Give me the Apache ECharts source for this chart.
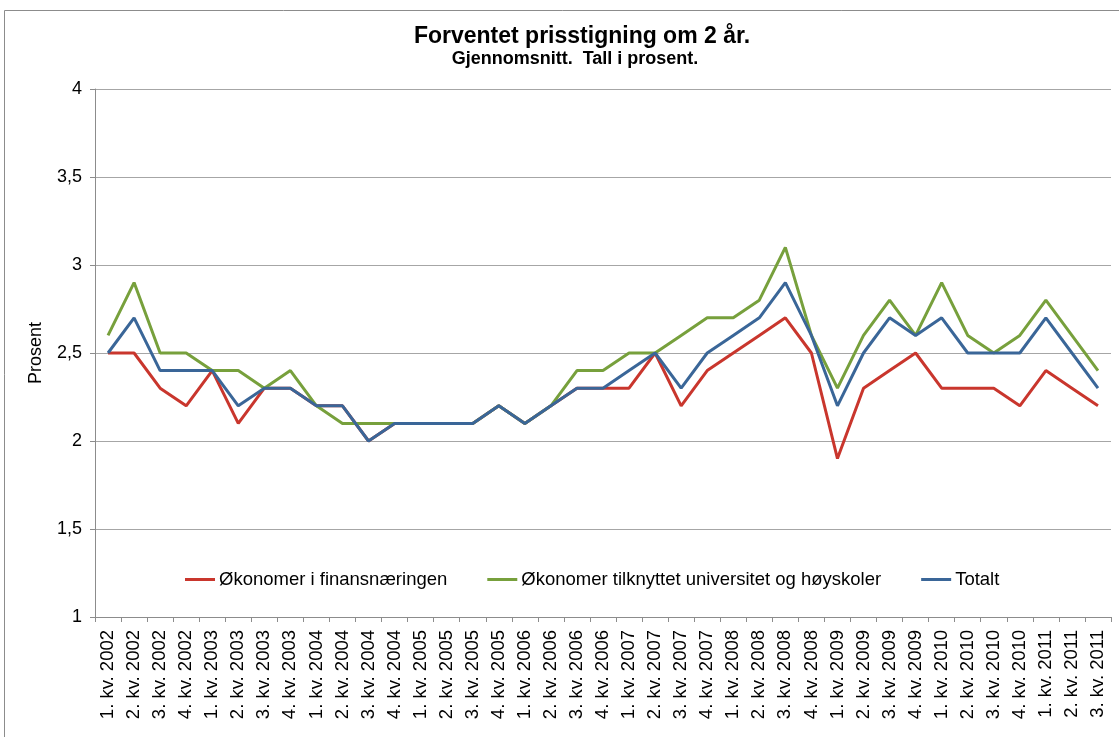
<!DOCTYPE html>
<html><head><meta charset="utf-8">
<script src="https://cdn.jsdelivr.net/npm/echarts@6/dist/echarts.min.js"></script>
<style>html,body{margin:0;padding:0;background:#fff}#c{width:1119px;height:737px}</style>
</head><body><div id="c"></div>
<script>
const categories = [
 "1. kv. 2002","2. kv. 2002","3. kv. 2002","4. kv. 2002",
 "1. kv. 2003","2. kv. 2003","3. kv. 2003","4. kv. 2003",
 "1. kv. 2004","2. kv. 2004","3. kv. 2004","4. kv. 2004",
 "1. kv. 2005","2. kv. 2005","3. kv. 2005","4. kv. 2005",
 "1. kv. 2006","2. kv. 2006","3. kv. 2006","4. kv. 2006",
 "1. kv. 2007","2. kv. 2007","3. kv. 2007","4. kv. 2007",
 "1. kv. 2008","2. kv. 2008","3. kv. 2008","4. kv. 2008",
 "1. kv. 2009","2. kv. 2009","3. kv. 2009","4. kv. 2009",
 "1. kv. 2010","2. kv. 2010","3. kv. 2010","4. kv. 2010",
 "1. kv. 2011","2. kv. 2011","3. kv. 2011"];
const finans = [2.5,2.5,2.3,2.2,2.4,2.1,2.3,2.3,2.2,2.2,2.0,2.1,2.1,2.1,2.1,2.2,2.1,2.2,2.3,2.3,2.3,2.5,2.2,2.4,2.5,2.6,2.7,2.5,1.9,2.3,2.4,2.5,2.3,2.3,2.3,2.2,2.4,2.3,2.2];
const universitet = [2.6,2.9,2.5,2.5,2.4,2.4,2.3,2.4,2.2,2.1,2.1,2.1,2.1,2.1,2.1,2.2,2.1,2.2,2.4,2.4,2.5,2.5,2.6,2.7,2.7,2.8,3.1,2.6,2.3,2.6,2.8,2.6,2.9,2.6,2.5,2.6,2.8,2.6,2.4];
const totalt = [2.5,2.7,2.4,2.4,2.4,2.2,2.3,2.3,2.2,2.2,2.0,2.1,2.1,2.1,2.1,2.2,2.1,2.2,2.3,2.3,2.4,2.5,2.3,2.5,2.6,2.7,2.9,2.6,2.2,2.5,2.7,2.6,2.7,2.5,2.5,2.5,2.7,2.5,2.3];
const seriesNames = ["Økonomer i finansnæringen","Økonomer tilknyttet universitet og høyskoler","Totalt"];
const colors = ["#C9362D","#77A03C","#3A6698"];

const FONT = 'Liberation Sans, Arial';
const chart = echarts.init(document.getElementById('c'));
const mk = (name, data, color) => ({
  name, type:'line', data, symbol:'none', smooth:false,
  lineStyle:{color, width:3}, itemStyle:{color}
});
chart.setOption({
  animation:false,
  backgroundColor:'#fff',
  graphic:[{type:'rect', shape:{x:4.5,y:10.5,width:1120,height:740}, style:{fill:'none',stroke:'#8c8c8c',lineWidth:1}}],
  title:[{
    text:'Forventet prisstigning om 2 år.',
    left:577, textAlign:'center', top:20,
    textStyle:{fontFamily:FONT, fontSize:23, fontWeight:'bold', color:'#000'}
  },{
    text:'Gjennomsnitt.  Tall i prosent.',
    left:570, textAlign:'center', top:45,
    textStyle:{fontFamily:FONT, fontSize:18, fontWeight:'bold', color:'#000'}
  }],
  legend:{
    data:seriesNames, top:565, left:180, itemWidth:30, itemHeight:3, itemGap:40,
    icon:'rect',
    textStyle:{fontFamily:FONT, fontSize:18.5, color:'#000', padding:[0,0,0,-1]}
  },
  grid:{left:95, right:8, top:89, bottom:120, containLabel:false},
  xAxis:{
    type:'category', data:categories, boundaryGap:true,
    axisLine:{lineStyle:{color:'#8c8c8c', width:1}},
    axisTick:{show:true, length:5, interval:0, lineStyle:{color:'#8c8c8c'}},
    axisLabel:{interval:0, rotate:90, fontFamily:FONT, fontSize:18.5, color:'#000', margin:13}
  },
  yAxis:{
    type:'value', min:1, max:4, interval:0.5,
    name:'Prosent', nameLocation:'middle', nameGap:50, nameRotate:90,
    nameTextStyle:{fontFamily:FONT, fontSize:18, color:'#000'},
    axisLine:{show:true, lineStyle:{color:'#8c8c8c', width:1}},
    axisTick:{show:true, length:5, lineStyle:{color:'#8c8c8c'}},
    splitLine:{lineStyle:{color:'#a6a6a6', width:1}},
    axisLabel:{fontFamily:FONT, fontSize:18, color:'#000', margin:13,
      formatter:v=>String(v).replace('.',',')}
  },
  series:[mk(seriesNames[0],finans,colors[0]), mk(seriesNames[1],universitet,colors[1]), mk(seriesNames[2],totalt,colors[2])]
});
</script></body></html>
